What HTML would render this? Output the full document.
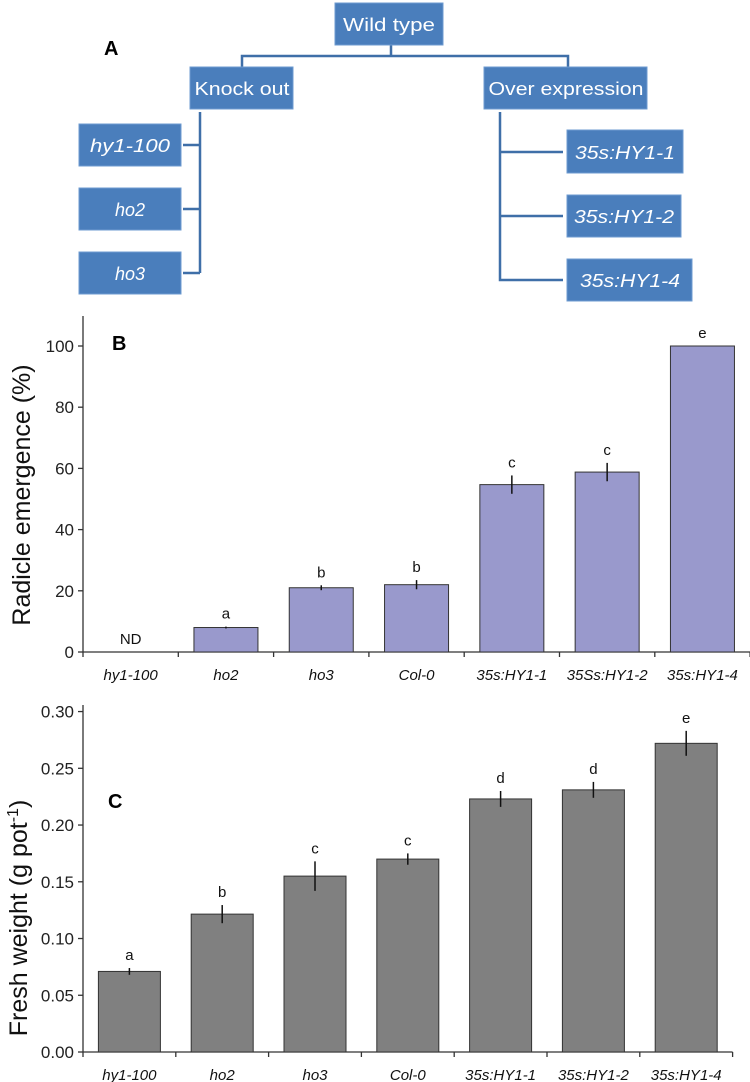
<!DOCTYPE html>
<html><head><meta charset="utf-8"><style>
body{margin:0;background:#fff;}
svg{display:block;font-family:"Liberation Sans",sans-serif;}
.box{fill:#4a7ebc;stroke:#6e9bd0;stroke-width:1;}
.bt{fill:#fff;font-size:18px;text-anchor:middle;}
.ln{stroke:#3f6fa8;stroke-width:2.5;fill:none;}
</style></head><body>
<svg id="fig" width="750" height="1082" viewBox="0 0 750 1082">
<g>
<text x="104" y="55" font-size="20" font-weight="bold">A</text>
<path class="ln" d="M391 45V56M242 67V56H568V67M200 112V273M183 145H200M183 209H200M183 273H200M500 112V280H563M500 152H563M500 216H563"/>
<rect class="box" x="335" y="3" width="108" height="42"/><text class="bt" x="389" y="31" textLength="92" lengthAdjust="spacingAndGlyphs">Wild type</text>
<rect class="box" x="190" y="67" width="103" height="42"/><text class="bt" x="242" y="95" textLength="95" lengthAdjust="spacingAndGlyphs">Knock out</text>
<rect class="box" x="484" y="67" width="163" height="42"/><text class="bt" x="566" y="95" textLength="155" lengthAdjust="spacingAndGlyphs">Over expression</text>
<rect class="box" x="79" y="124" width="102" height="42"/><text class="bt" x="130" y="152" font-style="italic" textLength="80" lengthAdjust="spacingAndGlyphs">hy1-100</text>
<rect class="box" x="79" y="188" width="102" height="42"/><text class="bt" x="130" y="216" font-style="italic">ho2</text>
<rect class="box" x="79" y="252" width="102" height="42"/><text class="bt" x="130" y="280" font-style="italic">ho3</text>
<rect class="box" x="567" y="130" width="116" height="43"/><text class="bt" x="625" y="159" font-style="italic" textLength="100" lengthAdjust="spacingAndGlyphs">35s:HY1-1</text>
<rect class="box" x="567" y="195" width="114" height="42"/><text class="bt" x="624" y="223" font-style="italic" textLength="100" lengthAdjust="spacingAndGlyphs">35s:HY1-2</text>
<rect class="box" x="567" y="259" width="125" height="42"/><text class="bt" x="630" y="287" font-style="italic" textLength="100" lengthAdjust="spacingAndGlyphs">35s:HY1-4</text>
</g>
<g id="pb"></g>
<g id="pc"></g>
</svg>
<script>
const catsB=["hy1-100","ho2","ho3","Col-0","35s:HY1-1","35Ss:HY1-2","35s:HY1-4"];
const valsB=[0,8,21,22,54.7,58.8,100];
const errB=[0,0.3,0.8,1.5,3,3,0];
const letB=["ND","a","b","b","c","c","e"];
const ticksB=[0,20,40,60,80,100];
const catsC=["hy1-100","ho2","ho3","Col-0","35s:HY1-1","35s:HY1-2","35s:HY1-4"];
const valsC=[0.071,0.1215,0.155,0.170,0.223,0.231,0.272];
const errC=[0.003,0.008,0.013,0.005,0.007,0.007,0.011];
const letC=["a","b","c","c","d","d","e"];
const ticksC=["0.00","0.05","0.10","0.15","0.20","0.25","0.30"];
const NS="http://www.w3.org/2000/svg";
function mk(p,t,a,txt){const e=document.createElementNS(NS,t);for(const k in a)e.setAttribute(k,a[k]);if(txt!=null)e.textContent=txt;p.appendChild(e);return e;}
function chart(g,o){
 const y=v=>o.y0-(v-o.vmin)/(o.vmax-o.vmin)*(o.y0-o.yTopTick);
 const n=o.cats.length;
 let e=mk(g,"line",{x1:o.x0,y1:o.axTop,x2:o.x0,y2:o.y0,stroke:"#333","stroke-width":1.3});
 
 e=mk(g,"line",{x1:o.x0,y1:o.y0,x2:o.x0+o.step*n,y2:o.y0,stroke:"#333","stroke-width":1.3});
 
 o.ticks.forEach(t=>{const v=parseFloat(t);const yy=y(v);
  mk(g,"line",{x1:o.x0-5,y1:yy,x2:o.x0,y2:yy,stroke:"#333","stroke-width":1.3});
  e=mk(g,"text",{x:o.x0-9,y:yy+6,"font-size":17,"text-anchor":"end",fill:"#222"},t);
  });
 for(let i=0;i<=n;i++){const xx=o.x0+o.step*i;mk(g,"line",{x1:xx,y1:o.y0,x2:xx,y2:o.y0+5,stroke:"#333","stroke-width":1.3});}
 o.cats.forEach((c,i)=>{const cx=o.x0+o.step*(i+0.5);const v=o.vals[i];
  if(v>0){e=mk(g,"rect",{x:cx-o.bw/2,y:y(v),width:o.bw,height:o.y0-y(v),fill:o.fill,stroke:"#333","stroke-width":1});
   
   if(o.err[i]>0){e=mk(g,"line",{x1:cx,y1:y(v+o.err[i]),x2:cx,y2:y(v-o.err[i]),stroke:"#111","stroke-width":1.5});
    }}
  const ly=(v>0?y(v+o.err[i]):o.y0)-8;
  e=mk(g,"text",{x:cx,y:ly,"font-size":15,"text-anchor":"middle",fill:"#111"},o.lets[i]);
  
  e=mk(g,"text",{x:cx,y:o.y0+28,"font-size":15,"text-anchor":"middle","font-style":"italic",fill:"#111"},c);
  });
 e=mk(g,"text",{x:o.px,y:o.py,"font-size":20,"font-weight":"bold"},o.panel);
 
 return y;
}
chart(document.getElementById("pb"),{cats:catsB,vals:valsB,err:errB,lets:letB,ticks:ticksB.map(String),vmin:0,vmax:100,y0:652,yTopTick:346,axTop:316,x0:83,step:95.3,bw:64,fill:"#9999cc",panel:"B",px:112,py:350});
chart(document.getElementById("pc"),{cats:catsC,vals:valsC,err:errC,lets:letC,ticks:ticksC,vmin:0,vmax:0.25,y0:1052,yTopTick:768.3,axTop:705,x0:83,step:92.8,bw:62,fill:"#808080",panel:"C",px:108,py:808});
const svg=document.getElementById("fig");
let t=mk(svg,"text",{transform:"translate(30,495) rotate(-90)","font-size":25,"text-anchor":"middle",fill:"#111"},"Radicle emergence (%)");


t=mk(svg,"text",{transform:"translate(27,918) rotate(-90)","font-size":25,"text-anchor":"middle",fill:"#111"},null);


mk(t,"tspan",{},"Fresh weight (g pot");
mk(t,"tspan",{dy:-9,"font-size":16},"-1");
mk(t,"tspan",{dy:9},")");
</script>
</body></html>
